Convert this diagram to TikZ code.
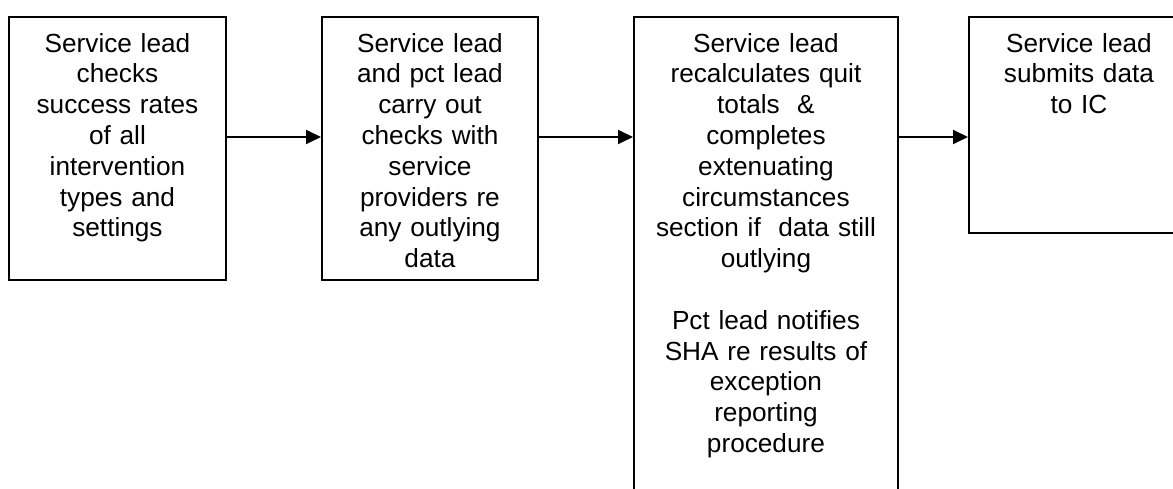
\documentclass[tikz,border=0pt]{standalone}
\usepackage{fontspec}
\setmainfont{Liberation Sans}
\usetikzlibrary{arrows.meta}
\begin{document}
\begin{tikzpicture}[x=1pt,y=1pt,
  stagebox/.style={draw=black,line width=1.9pt,rectangle,inner sep=0pt,anchor=north west},
  stagetext/.style={anchor=north,inner sep=0pt,align=center,
    font=\fontsize{26.2}{30.8}\selectfont},
  flow/.style={line width=1.9pt,-{Triangle[length=15pt,width=14pt]}}]
\useasboundingbox (0,0) rectangle (1173,-489);
\clip (0,0) rectangle (1173,-489);

% the four process stages
\node[stagebox,minimum width=217pt,minimum height=263pt] (b1) at (8,-16) {};
\node[stagebox,minimum width=216pt,minimum height=263pt] (b2) at (321,-16) {};
\node[stagebox,minimum width=264pt,minimum height=500pt] (b3) at (633,-16) {};
\node[stagebox,minimum width=220pt,minimum height=216pt] (b4) at (968,-16) {};

\node[stagetext,text width=205pt] (t1) at ([yshift=-17pt]b1.north)
  {Service lead\\checks\\success rates\\of all\\intervention\\types and\\settings};
\node[stagetext,text width=205pt] (t2) at ([yshift=-17pt]b2.north)
  {Service lead\\and pct lead\\carry out\\checks with\\service\\providers re\\any outlying\\data};
\node[stagetext,text width=255pt] (t3) at ([yshift=-17pt]b3.north)
  {Service lead\\recalculates quit\\totals~~\&\\completes\\extenuating\\circumstances\\section if~~data still\\outlying\\[30.8pt]Pct lead notifies\\SHA re results of\\exception\\reporting\\procedure};
\node[stagetext,text width=210pt] (t4) at ([yshift=-17pt]b4.north)
  {Service lead\\submits data\\to IC};

% connectors between stages
\coordinate (row) at (0,-137);
\draw[flow] (b1.east |- row) -- (b2.west |- row);
\draw[flow] (b2.east |- row) -- (b3.west |- row);
\draw[flow] (b3.east |- row) -- (b4.west |- row);
\end{tikzpicture}
\end{document}
